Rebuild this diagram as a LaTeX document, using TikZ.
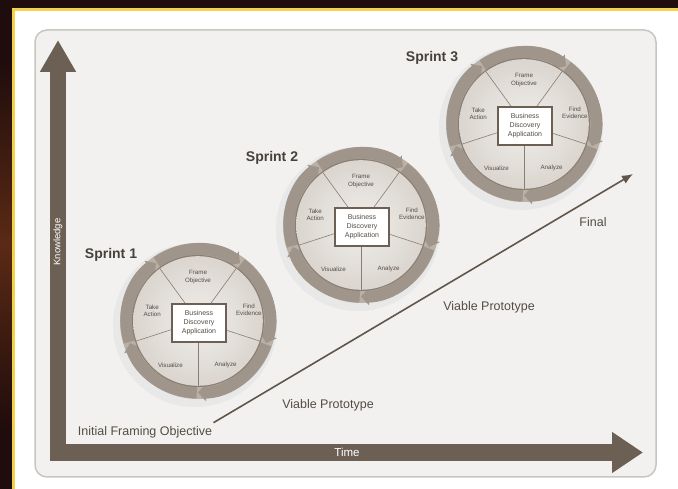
\documentclass[tikz,border=0pt]{standalone}
\usepackage{fontspec}
\setsansfont{Liberation Sans}
\usepackage[rgb]{xcolor}
\usepackage{tikz}
\usetikzlibrary{arrows.meta}

\definecolor{bgdark}{HTML}{1F0C0C}
\definecolor{bgglow}{HTML}{5A2A14}
\definecolor{frameyellow}{HTML}{F3D14B}
\definecolor{panelfill}{HTML}{F2F1EF}
\definecolor{panelline}{HTML}{C9C5BF}
\definecolor{axisbrown}{HTML}{6C6055}
\definecolor{ringdark}{HTML}{8A7E72}
\definecolor{ringmid}{HTML}{A0958A}
\definecolor{ringlight}{HTML}{B9B0A6}
\definecolor{disclight}{HTML}{F1EFEC}
\definecolor{discdark}{HTML}{DAD5CE}
\definecolor{labelgray}{HTML}{544C45}

\begin{document}
\begin{tikzpicture}[x=1pt, y=1pt,
  lbl/.style={font=\sffamily\fontsize{12.5}{14}\selectfont, text=labelgray},
  sprintlbl/.style={font=\sffamily\bfseries\fontsize{14}{16}\selectfont, text=labelgray!85!black},
  wedgelbl/.style={font=\sffamily\fontsize{6.2}{7.2}\selectfont, text=labelgray, align=center, inner sep=0pt},
  ringarrow/.style={ringmid, line width=12pt, -{Triangle[width=17pt, length=8pt]}},
  bizbox/.style={draw=axisbrown, line width=1.3pt, fill=white, align=center, inner sep=1.5pt,
    minimum width=54pt, minimum height=38pt, font=\sffamily\fontsize{7}{9}\selectfont, text=labelgray}]

\useasboundingbox (0,0) rectangle (678,489);

% dark surround with yellow frame
\fill[bgdark] (0,0) rectangle (678,489);
\shade[top color=bgdark, bottom color=bgdark, middle color=bgglow] (0,60) rectangle (12,430);
\fill[frameyellow] (12,0) rectangle (678,481);
\fill[white] (15,0) rectangle (678,478);

% panel
\filldraw[fill=panelfill, draw=panelline, line width=1.5pt, rounded corners=12pt]
 (35,12) rectangle (656,459);

% axes
\coordinate (corner) at (58,28);
\coordinate (ktip) at (58,449);
\coordinate (tstart) at (50,36.5);
\coordinate (ttip) at (643,36.5);
\draw[axisbrown, line width=16pt, -{Triangle[width=34pt, length=32pt]}] (corner) -- (ktip)
 node[pos=0.52, rotate=90, text=white, font=\sffamily\fontsize{9.5}{11}\selectfont] (knowledge) {Knowledge};
\draw[axisbrown, line width=17pt, -{Triangle[width=39pt, length=31pt]}] (tstart) -- (ttip);
\node[text=white, font=\sffamily\fontsize{11.5}{13}\selectfont] (time) at (347,36.5) {Time};

% sprint wheels
\foreach \n/\p in {s1/{198,168}, s2/{361,264}, s3/{524,365}}{
  \coordinate (\n) at (\p);
  \fill[black!9] ([shift={(-3,-4)}]\n) circle (82);
  \fill[ringlight] (\n) circle (78);
  % cycle arrows round the rim
  \foreach \b in {54,-18,-90,-162,-234}
    \draw[ringarrow] ([shift={(\b+71:71.5)}]\n) arc[start angle=\b+71, end angle=\b, radius=71.5];
  \fill[ringdark] (\n) circle (66);
  \shade[inner color=disclight, outer color=discdark] (\n) circle (64.8);
  \foreach \a in {-90,-18,54,126,198}
    \draw[ringdark, line width=0.6pt] (\n) -- ++(\a:65);
  \node[wedgelbl] (\n-frame) at ([shift={(90:44)}]\n) {Frame\\Objective};
  \node[wedgelbl] (\n-find) at ([shift={(12:52)}]\n) {Find\\Evidence};
  \node[wedgelbl] (\n-analyze) at ([shift={(-58:52)}]\n) {Analyze};
  \node[wedgelbl] (\n-visual) at ([shift={(-122:52)}]\n) {Visualize};
  \node[wedgelbl] (\n-take) at ([shift={(167:47)}]\n) {Take\\Action};
  \node[bizbox] (\n-box) at ([shift={(1,-2)}]\n) {Business\\Discovery\\Application};
}

\node[sprintlbl] (sprint1) at (111,234) {Sprint 1};
\node[sprintlbl] (sprint2) at (272,331) {Sprint 2};
\node[sprintlbl] (sprint3) at (432,431) {Sprint 3};

% growth line
\node[lbl] (initial) at (145,57) {Initial Framing Objective};
\coordinate (final) at (633,315);
\draw[axisbrown!90!black, line width=1.6pt, -{Latex[length=11pt, width=9pt]}]
 ([xshift=-2pt]initial.north east) -- (final);
\node[lbl] (viable1) at (328,84) {Viable Prototype};
\node[lbl] (viable2) at (489,182) {Viable Prototype};
\node[lbl] (finallbl) at (593,267) {Final};

\end{tikzpicture}
\end{document}
